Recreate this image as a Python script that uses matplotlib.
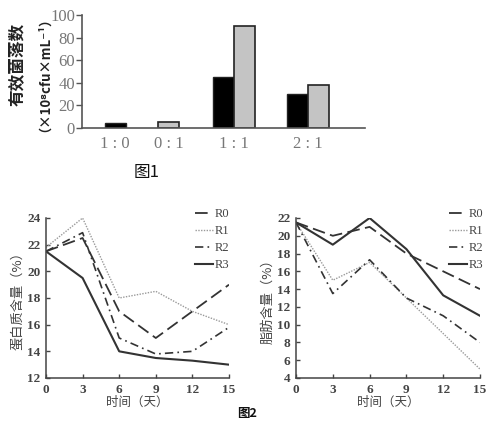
import matplotlib.pyplot as plt

plt.rcParams['font.family'] = ['Noto Sans CJK SC', 'DejaVu Sans']

# figure 1: bar chart data
ratios = ['1 : 0', '0 : 1', '1 : 1', '2 : 1']
black_vals = [4, 0, 45, 30]
grey_vals = [0, 5, 90, 38]

# figure 2: time course data
days = [0, 3, 6, 9, 12, 15]
protein = {
    'R0': [21.5, 22.5, 17.0, 15.0, 17.0, 19.0],
    'R1': [21.8, 24.0, 18.0, 18.5, 17.0, 16.0],
    'R2': [21.5, 22.9, 15.0, 13.8, 14.0, 15.8],
    'R3': [21.5, 19.5, 14.0, 13.5, 13.3, 13.0],
}
fat = {
    'R0': [21.5, 20.0, 21.0, 18.0, 16.0, 14.0],
    'R1': [21.5, 15.0, 17.0, 13.0, 9.0, 5.0],
    'R2': [21.5, 13.5, 17.3, 13.0, 11.0, 8.0],
    'R3': [21.5, 19.0, 22.0, 18.5, 13.3, 11.0],
}

styles = {
    'R0': dict(color='#333333', lw=1.3, dashes=(7, 3)),
    'R1': dict(color='#9a9a9a', lw=1.0, ls=(0, (1, 1))),
    'R2': dict(color='#333333', lw=1.2, dashes=(5, 2.5, 1, 2.5)),
    'R3': dict(color='#333333', lw=1.5, ls='-'),
}

W, H = 488, 424
fig = plt.figure(figsize=(W / 100, H / 100), dpi=100)


def rect(x0, y0, x1, y1):
    return [x0 / W, 1 - y1 / H, (x1 - x0) / W, (y1 - y0) / H]


# ---- 图1 ----
ax = fig.add_axes(rect(82, 15, 365, 128))
centers = [0.63, 1.65, 2.9, 4.3]
bw = 0.4
for c, b, g in zip(centers, black_vals, grey_vals):
    if b and g:
        ax.bar(c - bw / 2, b, bw, color='black', edgecolor='#222222', lw=1)
        ax.bar(c + bw / 2, g, bw, color='#c4c4c4', edgecolor='#222222', lw=1.2)
    elif b:
        ax.bar(c, b, bw, color='black', edgecolor='#222222', lw=1)
    else:
        ax.bar(c, g, bw, color='#c4c4c4', edgecolor='#222222', lw=1.2)
ax.set_xlim(0, 5.39)
ax.set_ylim(0, 100)
ax.set_yticks([0, 20, 40, 60, 80, 100])
ax.set_xticks(centers)
ax.set_xticklabels(ratios)
ax.tick_params(axis='x', length=0, pad=6)
ax.tick_params(axis='y', direction='out', length=4, width=1, color='#555555', pad=1)
for lab in ax.get_xticklabels() + ax.get_yticklabels():
    lab.set_family('Liberation Serif')
    lab.set_fontsize(12)
    lab.set_color('#777777')
for s in ['top', 'right']:
    ax.spines[s].set_visible(False)
for s in ['left', 'bottom']:
    ax.spines[s].set_color('#555555')
    ax.spines[s].set_linewidth(1.2)

fig.text(17 / W, 1 - 64 / H, '有效菌落数', rotation=90, ha='center', va='center',
         fontsize=12, fontweight='bold', color='#222222')
fig.text(38 / W, 1 - 68 / H, '（×10⁸cfu×mL⁻¹）', rotation=90, ha='center', va='center',
         fontsize=9.5, fontweight='bold', color='#222222')
fig.text(147 / W, 1 - 172 / H, '图1', ha='center', va='center', fontsize=12,
         color='#111111')

# ---- 图2 ----
panels = [
    (rect(46, 218, 229, 378), protein, (12, 24), range(12, 25, 2), '蛋白质含量（%）', 195),
    (rect(296, 218, 480, 378), fat, (4, 22), range(4, 23, 2), '脂肪含量（%）', 449),
]
for r, data, ylim, yt, ylabel, lx in panels:
    ax = fig.add_axes(r)
    for name, vals in data.items():
        ax.plot(days, vals, label=name, **styles[name])
    ax.set_xlim(0, 15)
    ax.set_ylim(*ylim)
    ax.set_xticks(days)
    ax.set_yticks(list(yt))
    ax.tick_params(direction='in', length=3, width=1, color='#444444', pad=4)
    for lab in ax.get_xticklabels() + ax.get_yticklabels():
        lab.set_family('Liberation Serif')
        lab.set_fontsize(9.5)
        lab.set_fontweight('bold')
        lab.set_color('#444444')
    for s in ['top', 'right']:
        ax.spines[s].set_visible(False)
    for s in ['left', 'bottom']:
        ax.spines[s].set_color('#444444')
        ax.spines[s].set_linewidth(1.1)
    ax.set_xlabel('时间（天）', fontsize=9, color='#444444', labelpad=0)
    ax.set_ylabel(ylabel, fontsize=9.5, color='#444444', labelpad=2)
    leg = ax.legend(loc='upper left', bbox_to_anchor=(lx / W, 1 - 208 / H),
                    bbox_transform=fig.transFigure, frameon=False,
                    handlelength=1.4, handletextpad=0.2, labelspacing=0.4,
                    borderpad=0, borderaxespad=0,
                    prop={'family': 'Liberation Serif', 'size': 9})
    for t in leg.get_texts():
        t.set_color('#444444')

fig.text(247 / W, 1 - 414 / H, '图2', ha='center', va='center', fontsize=9,
         fontweight='bold', color='#111111')

fig.savefig('out.png', dpi=100)
